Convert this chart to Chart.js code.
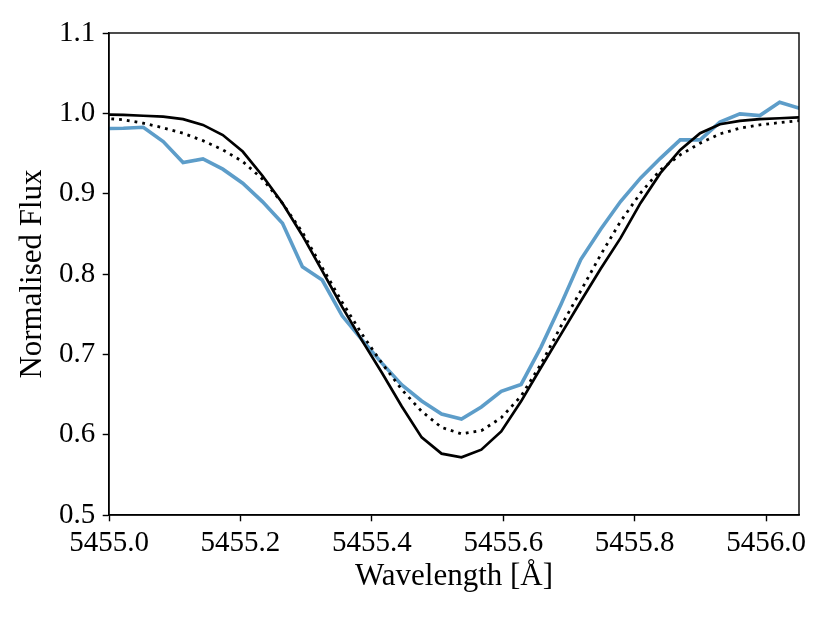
<!DOCTYPE html>
<html>
<head>
<meta charset="utf-8">
<script src="https://cdn.jsdelivr.net/npm/chart.js@4.4.0/dist/chart.umd.min.js"></script>
<style>
  body { margin: 0; background: #fff; }
  canvas { display: block; }
</style>
</head>
<body>
<canvas id="flux-chart" width="830" height="623"></canvas>
<script>
// wavelength grid (Angstrom)
var wavelength = [5454.9917, 5455.0219, 5455.0522, 5455.0825, 5455.1127, 5455.1430, 5455.1732,
  5455.2035, 5455.2338, 5455.2640, 5455.2943, 5455.3245, 5455.3548, 5455.3851, 5455.4153,
  5455.4456, 5455.4758, 5455.5061, 5455.5364, 5455.5666, 5455.5969, 5455.6271, 5455.6574,
  5455.6877, 5455.7179, 5455.7482, 5455.7784, 5455.8087, 5455.8390, 5455.8692, 5455.8995,
  5455.9297, 5455.9600, 5455.9903, 5456.0205, 5456.0508];

// observed spectrum
var observed = [0.981, 0.9815, 0.9827, 0.9648, 0.9387, 0.9433, 0.9305, 0.913, 0.8898, 0.8633,
  0.809, 0.7925, 0.748, 0.718, 0.689, 0.662, 0.642, 0.6257, 0.6195, 0.6344, 0.654, 0.6625,
  0.709, 0.762, 0.818, 0.8558, 0.8902, 0.9193, 0.944, 0.9669, 0.9669, 0.989, 0.9993, 0.9972,
  1.0138, 1.0063];

// model 1 (solid)
var model_solid = [0.9985, 0.998, 0.997, 0.9959, 0.9927, 0.9856, 0.973, 0.9524, 0.922, 0.888,
  0.848, 0.804, 0.759, 0.717, 0.677, 0.635, 0.5966, 0.5764, 0.5718, 0.5813, 0.604, 0.6415,
  0.6836, 0.7249, 0.766, 0.8065, 0.8446, 0.8882, 0.9255, 0.9545, 0.9752, 0.9864, 0.9905,
  0.9927, 0.9939, 0.9951];

// model 2 (dotted)
var model_dotted = [0.994, 0.992, 0.9877, 0.982, 0.9752, 0.966, 0.9545, 0.940, 0.918, 0.888,
  0.852, 0.808, 0.765, 0.725, 0.689, 0.656, 0.629, 0.609, 0.601, 0.605, 0.621, 0.648,
  0.688, 0.735, 0.779, 0.8239, 0.8653, 0.9006, 0.9296, 0.9483, 0.9628, 0.9744, 0.9815,
  0.9856, 0.9884, 0.9909];

var x_ticks = [5455.0, 5455.2, 5455.4, 5455.6, 5455.8, 5456.0];
var y_ticks = [0.5, 0.6, 0.7, 0.8, 0.9, 1.0, 1.1];

function points(ys) {
  return wavelength.map(function(x, i) { return {x: x, y: ys[i]}; });
}

var FONT = "'Liberation Serif', 'Times New Roman', serif";

// draws the top and right spines
var frame = {
  id: 'frame',
  afterDraw: function(chart) {
    var a = chart.chartArea, ctx = chart.ctx;
    ctx.save();
    ctx.strokeStyle = '#000';
    ctx.lineWidth = 1.4;
    ctx.strokeRect(a.left, a.top, a.right - a.left, a.bottom - a.top);
    ctx.restore();
  }
};

var ctx = document.getElementById('flux-chart').getContext('2d');
new Chart(ctx, {
  type: 'line',
  data: {
    datasets: [{
      label: 'Model',
      data: points(model_solid),
      borderColor: '#000',
      borderWidth: 2.7,
      pointRadius: 0,
      tension: 0
    }, {
      label: 'Model (dotted)',
      data: points(model_dotted),
      borderColor: '#000',
      borderWidth: 2.8,
      borderDash: [2.8, 5],
      pointRadius: 0,
      tension: 0
    }, {
      label: 'Observed',
      data: points(observed),
      borderColor: 'rgba(31,119,180,0.72)',
      borderWidth: 3.6,
      pointRadius: 0,
      tension: 0
    }]
  },
  plugins: [frame],
  options: {
    responsive: false,
    animation: false,
    layout: { padding: { left: 0, right: 31, top: 33, bottom: 0 } },
    plugins: {
      legend: { display: false },
      tooltip: { enabled: false }
    },
    scales: {
      x: {
        type: 'linear',
        min: 5455.0,
        max: 5456.05,
        afterBuildTicks: function(scale) {
          scale.ticks = x_ticks.map(function(v) { return {value: v}; });
        },
        afterFit: function(scale) { scale.height = 108; },
        grid: { drawOnChartArea: false, drawTicks: true, tickLength: 6.3, tickWidth: 1.4, tickColor: '#000' },
        border: { display: true, color: '#000', width: 1.4 },
        ticks: {
          color: '#000',
          padding: 5,
          maxRotation: 0,
          font: { family: FONT, size: 29 },
          callback: function(v) { return v.toFixed(1); }
        },
        title: {
          display: true,
          text: 'Wavelength [Å]',
          color: '#000',
          font: { family: FONT, size: 31 },
          padding: { top: 0, bottom: 28 }
        }
      },
      y: {
        min: 0.5,
        max: 1.1,
        afterBuildTicks: function(scale) {
          scale.ticks = y_ticks.map(function(v) { return {value: v}; });
        },
        afterFit: function(scale) { scale.width = 109; },
        grid: { drawOnChartArea: false, drawTicks: true, tickLength: 6.3, tickWidth: 1.4, tickColor: '#000' },
        border: { display: true, color: '#000', width: 1.4 },
        ticks: {
          color: '#000',
          padding: 7.5,
          font: { family: FONT, size: 29 },
          callback: function(v) { return v.toFixed(1); }
        },
        title: {
          display: true,
          text: 'Normalised Flux',
          color: '#000',
          font: { family: FONT, size: 31 },
          padding: { top: 14, bottom: 0 }
        }
      }
    }
  }
});
</script>
</body>
</html>
